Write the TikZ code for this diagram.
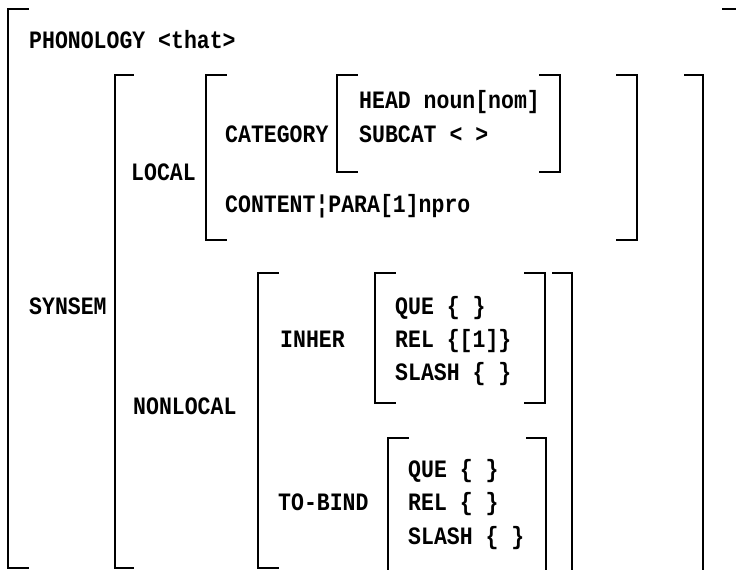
\documentclass[tikz,border=0pt]{standalone}
\usepackage{fontspec}
\newfontfamily\featfont[FakeStretch=0.86]{Liberation Mono}
\usetikzlibrary{calc}
\def\mycolor{black}
% brackets: x, top, bottom
\newcommand{\lbrk}[3]{\draw [brk] (#1+20,#2) -- (#1,#2) -- (#1,#3) -- (#1+20,#3);}
\newcommand{\rbrk}[3]{\draw [brk] (#1-20,#2) -- (#1,#2) -- (#1,#3) -- (#1-20,#3);}

\begin{document}
\begin{tikzpicture}[x=1pt,y=-1pt]
\tikzstyle{brk}=[line width=2pt, color=\mycolor, line cap=rect]
\tikzstyle{feat}=[anchor=west, inner sep=0pt, color=\mycolor, text height=15pt, text depth=0pt,
  font=\featfont\bfseries\fontsize{25}{28}\selectfont]

\useasboundingbox (0,0) rectangle (736,570);

% outer matrix
\draw [brk] (28,9) -- (8,9) -- (8,568) -- (28,568);
\draw [brk] (723,9) -- (736,9);

% synsem
\draw [brk] (133,75) -- (115,75) -- (115,568) -- (133,568);
\draw [brk] (685,75) -- (703,75) -- (703,572);

% local
\lbrk{206}{75}{240}
\rbrk{637}{75}{240}

% category
\lbrk{337}{75}{172}
\rbrk{560}{75}{172}

% nonlocal
\draw [brk] (278,273) -- (258,273) -- (258,568) -- (278,568);
\draw [brk] (553,273) -- (572,273) -- (572,572);

% inher
\lbrk{375}{273}{403}
\rbrk{545}{273}{403}

% to-bind
\draw [brk] (408,438) -- (388,438) -- (388,572);
\draw [brk] (527,438) -- (546,438) -- (546,572);

\node (phon) [feat] at (29,41) {PHONOLOGY <that>};
\node (syn) [feat] at (29,307) {SYNSEM};
\node (loc) [feat] at (131,173) {LOCAL};
\node (cat) [feat] at (225,135) {CATEGORY};
\node (head) [feat] at (359,101) {HEAD noun[nom]};
\node (subcat) [feat] at (359,135) {SUBCAT < >};
\node (cont) [feat] at (225,205) {CONTENT¦PARA[1]npro};

\node (nonloc) [feat] at (133,407) {NONLOCAL};
\node (inher) [feat] at (280,340) {INHER};
\node (que1) [feat] at (395,307) {QUE \{ \}};
\node (rel1) [feat] at (395,340) {REL \{[1]\}};
\node (slash1) [feat] at (395,373) {SLASH \{ \}};

\node (tobind) [feat] at (278,503) {TO-BIND};
\node (que2) [feat] at (408,470) {QUE \{ \}};
\node (rel2) [feat] at (408,503) {REL \{ \}};
\node (slash2) [feat] at (408,537) {SLASH \{ \}};

\end{tikzpicture}
\end{document}
